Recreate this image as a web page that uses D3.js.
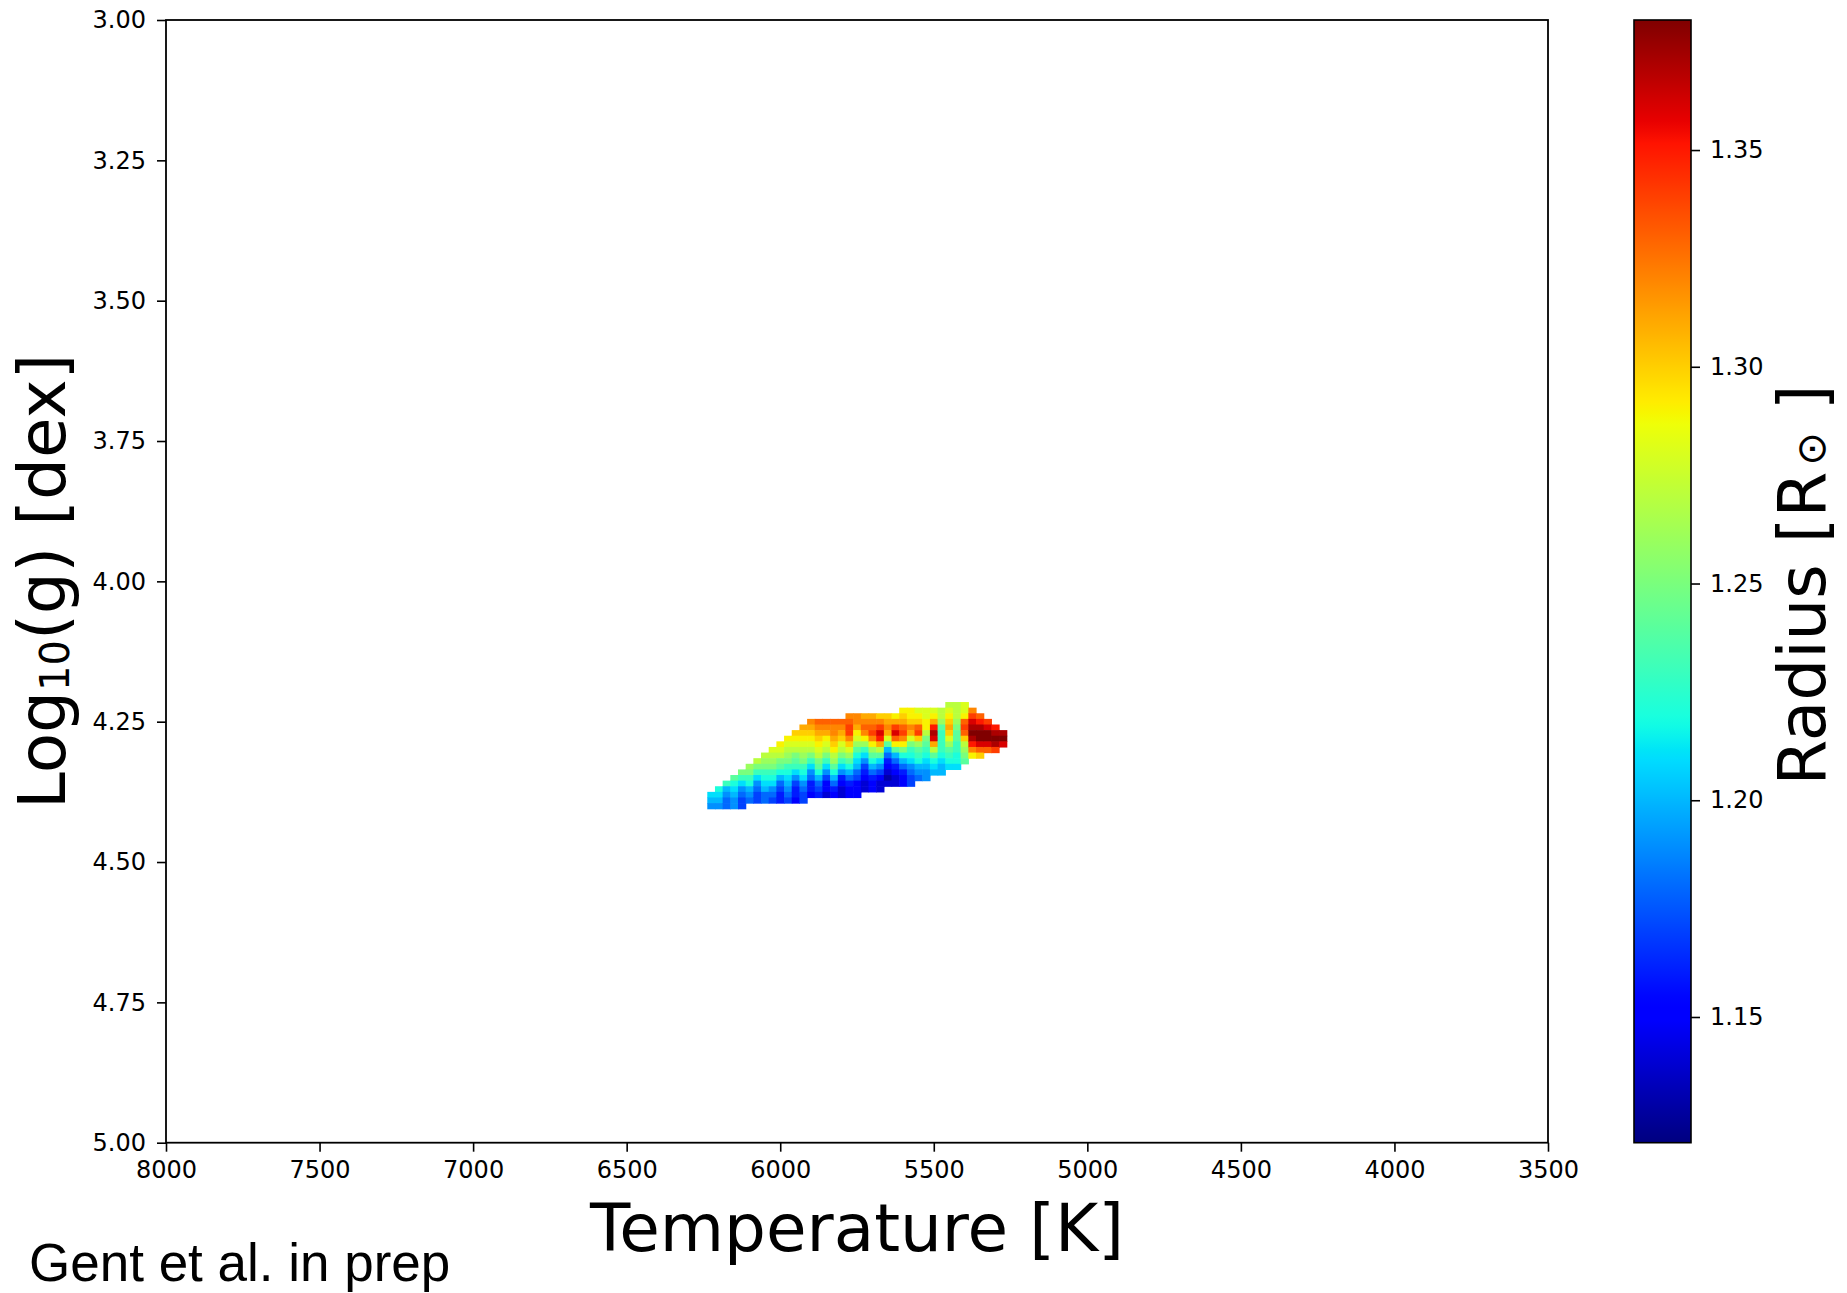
<!DOCTYPE html>
<html>
<head>
<meta charset="utf-8">
<script src="https://cdn.jsdelivr.net/npm/d3@7"></script>
<style>
body { margin: 0; background: #fff; }
text { font-family: "DejaVu Sans", sans-serif; fill: #000; }
</style>
</head>
<body>
<svg id="chart"></svg>
<script>
// model grid columns: effective temperature of each column (K)
var teff = [6225, 6200, 6175, 6150, 6125, 6100, 6075, 6050, 6025, 6000,
            5975, 5950, 5925, 5900, 5875, 5850, 5825, 5800, 5775, 5750,
            5725, 5700, 5675, 5650, 5625, 5600, 5575, 5550, 5525, 5500,
            5475, 5450, 5425, 5400, 5375, 5350, 5325, 5300, 5275];

// log g of the first (top) cell in each column, cells step down by 0.01 dex
var loggStart = [4.38, 4.37, 4.36, 4.35, 4.34, 4.33, 4.32, 4.31, 4.30, 4.29,
                 4.28, 4.27, 4.26, 4.25, 4.25, 4.25, 4.25, 4.25, 4.24, 4.24,
                 4.24, 4.24, 4.24, 4.24, 4.24, 4.23, 4.23, 4.23, 4.23, 4.23,
                 4.23, 4.22, 4.22, 4.22, 4.23, 4.24, 4.25, 4.26, 4.27];

// radius (R_sun) of each cell, top to bottom, per column
var radius = [
    [1.21, 1.20, 1.19],
    [1.22, 1.21, 1.20, 1.19],
    [1.23, 1.20, 1.19, 1.18, 1.18],
    [1.24, 1.22, 1.21, 1.20, 1.19, 1.19],
    [1.25, 1.23, 1.21, 1.19, 1.18, 1.17, 1.17],
    [1.26, 1.25, 1.23, 1.22, 1.20, 1.19, 1.18],
    [1.27, 1.25, 1.23, 1.21, 1.19, 1.18, 1.17, 1.17],
    [1.27, 1.26, 1.25, 1.23, 1.22, 1.21, 1.20, 1.18, 1.18],
    [1.28, 1.27, 1.26, 1.25, 1.23, 1.22, 1.21, 1.19, 1.18, 1.17],
    [1.29, 1.28, 1.27, 1.25, 1.24, 1.22, 1.20, 1.18, 1.17, 1.16, 1.16],
    [1.29, 1.28, 1.27, 1.26, 1.25, 1.23, 1.22, 1.21, 1.20, 1.19, 1.18, 1.17],
    [1.30, 1.29, 1.28, 1.27, 1.25, 1.24, 1.23, 1.21, 1.19, 1.17, 1.16, 1.16, 1.15],
    [1.31, 1.30, 1.29, 1.28, 1.27, 1.26, 1.25, 1.23, 1.22, 1.21, 1.19, 1.18, 1.17, 1.17],
    [1.32, 1.31, 1.30, 1.29, 1.28, 1.27, 1.25, 1.23, 1.21, 1.19, 1.18, 1.16, 1.16, 1.15],
    [1.33, 1.32, 1.31, 1.30, 1.29, 1.28, 1.27, 1.25, 1.24, 1.22, 1.20, 1.18, 1.17, 1.16],
    [1.33, 1.32, 1.31, 1.29, 1.28, 1.27, 1.25, 1.23, 1.21, 1.19, 1.17, 1.15, 1.15, 1.14],
    [1.33, 1.32, 1.32, 1.31, 1.30, 1.29, 1.27, 1.26, 1.24, 1.22, 1.20, 1.18, 1.16, 1.15],
    [1.33, 1.32, 1.31, 1.30, 1.28, 1.27, 1.25, 1.23, 1.21, 1.19, 1.16, 1.15, 1.14, 1.14],
    [1.32, 1.33, 1.34, 1.34, 1.32, 1.30, 1.28, 1.26, 1.24, 1.22, 1.20, 1.18, 1.16, 1.15, 1.15],
    [1.32, 1.32, 1.31, 1.29, 1.28, 1.26, 1.24, 1.22, 1.21, 1.20, 1.18, 1.17, 1.15, 1.15, 1.15],
    [1.31, 1.32, 1.33, 1.32, 1.29, 1.26, 1.23, 1.21, 1.19, 1.17, 1.16, 1.15, 1.14, 1.14],
    [1.31, 1.32, 1.33, 1.34, 1.32, 1.29, 1.26, 1.24, 1.22, 1.20, 1.18, 1.16, 1.15, 1.15],
    [1.30, 1.32, 1.34, 1.36, 1.35, 1.31, 1.27, 1.24, 1.21, 1.19, 1.17, 1.15, 1.14, 1.14],
    [1.30, 1.31, 1.32, 1.31, 1.28, 1.24, 1.20, 1.18, 1.16, 1.15, 1.14, 1.13, 1.14],
    [1.29, 1.31, 1.34, 1.36, 1.33, 1.29, 1.24, 1.20, 1.18, 1.16, 1.15, 1.14, 1.14],
    [1.29, 1.30, 1.31, 1.33, 1.34, 1.32, 1.29, 1.25, 1.22, 1.20, 1.18, 1.16, 1.15, 1.15],
    [1.29, 1.29, 1.30, 1.32, 1.31, 1.28, 1.25, 1.23, 1.22, 1.21, 1.19, 1.18, 1.17, 1.17],
    [1.28, 1.29, 1.30, 1.33, 1.34, 1.30, 1.26, 1.24, 1.23, 1.22, 1.20, 1.19, 1.18],
    [1.28, 1.28, 1.29, 1.29, 1.27, 1.25, 1.24, 1.23, 1.22, 1.21, 1.20, 1.19, 1.19],
    [1.28, 1.29, 1.31, 1.35, 1.37, 1.36, 1.31, 1.27, 1.24, 1.22, 1.21, 1.20],
    [1.27, 1.27, 1.26, 1.24, 1.23, 1.23, 1.23, 1.23, 1.22, 1.21, 1.20, 1.20],
    [1.27, 1.28, 1.29, 1.30, 1.31, 1.30, 1.28, 1.26, 1.24, 1.23, 1.22, 1.21],
    [1.27, 1.27, 1.27, 1.26, 1.25, 1.24, 1.24, 1.23, 1.23, 1.22, 1.22, 1.21],
    [1.28, 1.28, 1.29, 1.33, 1.34, 1.33, 1.30, 1.27, 1.26, 1.25, 1.24],
    [1.32, 1.34, 1.36, 1.37, 1.38, 1.37, 1.35, 1.32, 1.29],
    [1.33, 1.35, 1.37, 1.38, 1.38, 1.36, 1.33, 1.30],
    [1.34, 1.36, 1.38, 1.38, 1.36, 1.33],
    [1.35, 1.37, 1.38, 1.37, 1.34],
    [1.37, 1.38, 1.36]
];

var xTicks = [8000, 7500, 7000, 6500, 6000, 5500, 5000, 4500, 4000, 3500];
var yTicks = [3.00, 3.25, 3.50, 3.75, 4.00, 4.25, 4.50, 4.75, 5.00];
var cbTicks = [1.15, 1.20, 1.25, 1.30, 1.35];
var radiusRange = [1.121, 1.380];

var width = 1847,
    height = 1293,
    plotLeft = 166,
    plotRight = 1548,
    plotTop = 20,
    plotBottom = 1142.7,
    cbLeft = 1634,
    cbRight = 1691;

var svg = d3.select("#chart")
    .attr("width", width)
    .attr("height", height);

var x = d3.scaleLinear().domain([8000, 3500]).range([plotLeft, plotRight]);
var y = d3.scaleLinear().domain([3, 5]).range([plotTop, plotBottom]);

// matplotlib "jet" colormap
var jetR = d3.scaleLinear().domain([0, 0.35, 0.66, 0.89, 1]).range([0, 0, 1, 1, 0.5]).clamp(true);
var jetG = d3.scaleLinear().domain([0, 0.125, 0.375, 0.64, 0.91, 1]).range([0, 0, 1, 1, 0, 0]).clamp(true);
var jetB = d3.scaleLinear().domain([0, 0.11, 0.34, 0.65, 1]).range([0.5, 1, 1, 0, 0]).clamp(true);
var norm = d3.scaleLinear().domain(radiusRange).range([0, 1]).clamp(true);

function jet(v) {
    var t = norm(v);
    return d3.rgb(jetR(t) * 255, jetG(t) * 255, jetB(t) * 255).toString();
}

// flatten the grid into cells
var cells = [];
teff.forEach(function (t, i) {
    radius[i].forEach(function (r, k) {
        cells.push({ t: t, g: loggStart[i] + 0.01 * k, r: r });
    });
});

svg.append("g")
    .selectAll("rect")
    .data(cells)
    .enter().append("rect")
    .attr("x", function (d) { return x(d.t + 12.5); })
    .attr("y", function (d) { return y(d.g - 0.005); })
    .attr("width", function (d) { return x(d.t - 12.5) - x(d.t + 12.5) + 0.6; })
    .attr("height", function (d) { return y(d.g + 0.005) - y(d.g - 0.005) + 0.6; })
    .attr("fill", function (d) { return jet(d.r); });

// axes
var xAxis = svg.append("g")
    .attr("transform", "translate(0," + plotBottom + ")")
    .call(d3.axisBottom(x).tickValues(xTicks).tickFormat(d3.format("d"))
        .tickSize(9).tickSizeOuter(0).tickPadding(9));

var yAxis = svg.append("g")
    .attr("transform", "translate(" + plotLeft + ",0)")
    .call(d3.axisLeft(y).tickValues(yTicks).tickFormat(d3.format(".2f"))
        .tickSize(9).tickSizeOuter(0).tickPadding(11));

[xAxis, yAxis].forEach(function (a) {
    a.select(".domain").remove();
    a.selectAll("line").attr("stroke", "#000").attr("stroke-width", 1.6);
    a.selectAll("text").style("font-size", "24px").attr("fill", "#000");
});

svg.append("rect")
    .attr("x", plotLeft)
    .attr("y", plotTop)
    .attr("width", plotRight - plotLeft)
    .attr("height", plotBottom - plotTop)
    .attr("fill", "none")
    .attr("stroke", "#000")
    .attr("stroke-width", 1.8);

// colorbar
var defs = svg.append("defs");
var grad = defs.append("linearGradient")
    .attr("id", "jetgrad")
    .attr("x1", 0).attr("y1", 1)
    .attr("x2", 0).attr("y2", 0);

grad.selectAll("stop")
    .data(d3.range(0, 1.0001, 0.01))
    .enter().append("stop")
    .attr("offset", function (d) { return d; })
    .attr("stop-color", function (d) { return jet(norm.invert(d)); });

svg.append("rect")
    .attr("x", cbLeft)
    .attr("y", plotTop)
    .attr("width", cbRight - cbLeft)
    .attr("height", plotBottom - plotTop)
    .attr("fill", "url(#jetgrad)")
    .attr("stroke", "#000")
    .attr("stroke-width", 1.6);

var cbScale = d3.scaleLinear().domain(radiusRange).range([plotBottom, plotTop]);

var cbAxis = svg.append("g")
    .attr("transform", "translate(" + cbRight + ",0)")
    .call(d3.axisRight(cbScale).tickValues(cbTicks).tickFormat(d3.format(".2f"))
        .tickSize(9).tickSizeOuter(0).tickPadding(10));
cbAxis.select(".domain").remove();
cbAxis.selectAll("line").attr("stroke", "#000").attr("stroke-width", 1.6);
cbAxis.selectAll("text").style("font-size", "24px").attr("fill", "#000");

// labels
svg.append("text")
    .attr("x", (plotLeft + plotRight) / 2)
    .attr("y", 1251)
    .attr("text-anchor", "middle")
    .style("font-size", "66px")
    .text("Temperature [K]");

var yl = svg.append("text")
    .attr("transform", "translate(65," + ((plotTop + plotBottom) / 2) + ") rotate(-90)")
    .attr("text-anchor", "middle")
    .style("font-size", "66px");
yl.append("tspan").text("Log");
yl.append("tspan").attr("dy", 4).style("font-size", "40px").text("10");
yl.append("tspan").attr("dy", -4).text("(g) [dex]");

var cl = svg.append("text")
    .attr("transform", "translate(1825,585) rotate(-90)")
    .attr("text-anchor", "middle")
    .style("font-size", "66px");
cl.append("tspan").text("Radius [R");
cl.append("tspan").attr("dx", 6).style("font-size", "40px").text("\u2299");
cl.append("tspan").attr("dx", 22).text("]");

svg.append("text")
    .attr("x", 29)
    .attr("y", 1281)
    .style("font-family", "'Liberation Sans', Arial, sans-serif")
    .style("font-size", "53px")
    .text("Gent et al. in prep");
</script>
</body>
</html>
